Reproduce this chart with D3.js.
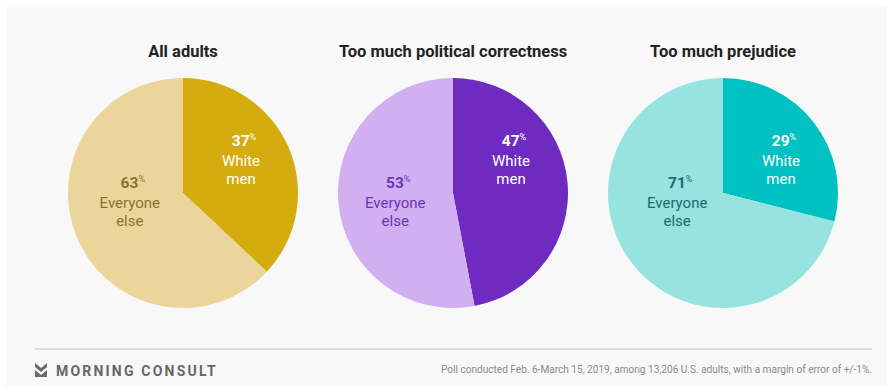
<!DOCTYPE html>
<html><head><meta charset="utf-8">
<script src="https://cdn.jsdelivr.net/npm/d3@7"></script>
<style>html,body{margin:0;padding:0;background:#fff;}svg{display:block;font-family:Roboto,"Open Sans",sans-serif;}</style>
</head><body>
<svg id="c" width="889" height="389"></svg>
<script>
const titles = ["All adults", "Too much political correctness", "Too much prejudice"];
const categories = ["White men", "Everyone else"];
const whiteMen = [37, 47, 29];
const everyoneElse = [63, 53, 71];
const darkColors = ["#d5ac0e", "#6f2bc1", "#00c1c1"];
const lightColors = ["#ecd59a", "#d1aff1", "#97e3e0"];
const lightText = ["#8a7330", "#6b37b8", "#1f6a6e"];
const footnote = "Poll conducted Feb. 6-March 15, 2019, among 13,206 U.S. adults, with a margin of error of +/-1%.";
const brand = "MORNING CONSULT";

const svg = d3.select("#c");
svg.append("rect").attr("x",6).attr("y",7).attr("width",881).attr("height",379).attr("fill","#f8f8f8");

const xPos = d3.scalePoint().domain(titles).range([183, 723]);
const R = 115, cy = 193;
const pie = d3.pie().sort(null).value(d => d.v);
const arc = d3.arc().innerRadius(0).outerRadius(R);

titles.forEach((t, i) => {
  const cx = xPos(t);
  const g = svg.append("g").attr("transform", `translate(${cx},${cy})`);
  const data = [{k: categories[0], v: whiteMen[i]}, {k: categories[1], v: everyoneElse[i]}];
  const arcs = pie(data);
  g.selectAll("path").data(arcs).join("path")
    .attr("d", arc)
    .attr("fill", (d, j) => j === 0 ? darkColors[i] : lightColors[i]);

  svg.append("text").attr("x", cx).attr("y", 57).attr("text-anchor","middle")
    .attr("font-size", 16.5).attr("font-weight", 700).attr("fill", "#222").text(t);

  arcs.forEach((a, j) => {
    const mid = (a.startAngle + a.endAngle) / 2;
    const lx = j === 0 ? 58 : Math.sin(mid) * 58;
    const y0 = j === 0 ? -47 : -5;
    const col = j === 0 ? "#ffffff" : lightText[i];
    const words = j === 0 ? ["White", "men"] : ["Everyone", "else"];
    const num = g.append("text").attr("x", lx).attr("y", y0).attr("text-anchor","middle")
      .attr("font-size", 15.5).attr("font-weight", 700).attr("fill", col);
    num.append("tspan").text(a.data.v);
    num.append("tspan").attr("font-size", 9).attr("font-weight", 400).attr("dy", -6).text("%");
    num.attr("dx", 3);
    words.forEach((w, k) => {
      g.append("text").attr("x", lx).attr("y", y0 + 20 + k * 18).attr("text-anchor","middle")
        .attr("font-size", 15).attr("font-weight", 400).attr("fill", col).text(w);
    });
  });
});

// footer
svg.append("line").attr("x1",35).attr("x2",872).attr("y1",349).attr("y2",349)
  .attr("stroke","#d6d6d6").attr("stroke-width",1.5);
svg.append("path").attr("d","M35,363 L41,368 L47,363 L47,367 L41,372 L35,367 Z M35,370 L41,375 L47,370 L47,377 L35,377 Z")
  .attr("fill","#6a6a6a");
svg.append("text").attr("x",56).attr("y",376).attr("font-size",14).attr("font-weight",700)
  .attr("letter-spacing",2.2).attr("fill","#666").text(brand);
svg.append("text").attr("x",872).attr("y",373).attr("text-anchor","end").attr("font-size",10)
  .attr("fill","#8a8a8a").attr("textLength",431).attr("lengthAdjust","spacingAndGlyphs").text(footnote);
</script>
</body></html>
